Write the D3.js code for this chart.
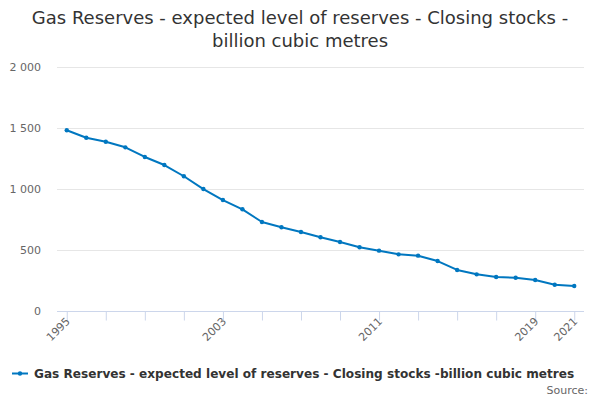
<!DOCTYPE html>
<html>
<head>
<meta charset="utf-8">
<script src="https://cdn.jsdelivr.net/npm/d3@7"></script>
<style>
body { margin: 0; background: #fff; }
text { font-family: "DejaVu Sans", sans-serif; }
</style>
</head>
<body>
<svg id="chart" width="600" height="400"></svg>
<script>
// data
var years = [1995, 1996, 1997, 1998, 1999, 2000, 2001, 2002, 2003, 2004, 2005, 2006, 2007,
  2008, 2009, 2010, 2011, 2012, 2013, 2014, 2015, 2016, 2017, 2018, 2019, 2020, 2021];
var reserves = [1484, 1423, 1390, 1344, 1265, 1199, 1107, 1002, 912, 836, 732, 689, 650,
  607, 568, 525, 497, 467, 456, 412, 339, 303, 281, 275, 257, 218, 207];
var yTicks = [0, 500, 1000, 1500, 2000];
var xTickYears = [1995, 1997, 1999, 2001, 2003, 2005, 2007, 2009, 2011, 2013, 2015, 2017, 2019, 2021];
var xLabelYears = [1995, 2003, 2011, 2019, 2021];

var titleLines = ["Gas Reserves - expected level of reserves - Closing stocks -", "billion cubic metres"];
var seriesName = "Gas Reserves - expected level of reserves - Closing stocks -billion cubic metres";

var color = "#0077c0";
var svg = d3.select("#chart");

var x = d3.scaleLinear().domain([1994.5, 2021.5]).range([57, 584]);
var y = d3.scaleLinear().domain([0, 2000]).range([311.3, 67.3]);

// title
svg.append("text")
  .attr("x", 300).attr("y", 24)
  .attr("text-anchor", "middle")
  .style("font-size", "18px").style("fill", "#333")
  .selectAll("tspan").data(titleLines).enter().append("tspan")
  .attr("x", 300).attr("dy", function(d, i) { return i ? 23 : 0; })
  .text(function(d) { return d; });

// grid
svg.append("g").selectAll("line").data(yTicks.filter(function(d) { return d > 0; })).enter()
  .append("line")
  .attr("x1", 57).attr("x2", 584)
  .attr("y1", function(d) { return Math.round(y(d)) + 0.5; })
  .attr("y2", function(d) { return Math.round(y(d)) + 0.5; })
  .style("stroke", "#e6e6e6");

// y labels
svg.append("g").selectAll("text").data(yTicks).enter().append("text")
  .attr("x", 41).attr("y", function(d) { return y(d) + 4; })
  .attr("text-anchor", "end")
  .style("font-size", "11px").style("fill", "#666")
  .text(function(d) { return d3.format(",")(d).replace(",", " "); });

// x axis
var xAxis = d3.axisBottom(x)
  .tickValues(xTickYears)
  .tickSize(9)
  .tickFormat("");
var gx = svg.append("g").attr("transform", "translate(0," + (Math.round(y(0)) + 0.5) + ")").call(xAxis);
gx.select(".domain").attr("d", "M57,0H584").style("stroke", "#ccd6eb");
gx.selectAll(".tick line").style("stroke", "#ccd6eb");

svg.append("g").selectAll("text").data(xLabelYears).enter().append("text")
  .attr("transform", function(d) { return "translate(" + (x(d) + 4) + ",322) rotate(-45)"; })
  .attr("text-anchor", "end")
  .style("font-size", "11px").style("fill", "#666")
  .text(function(d) { return d; });

// line
var line = d3.line()
  .x(function(d, i) { return x(years[i]); })
  .y(function(d) { return y(d); });

svg.append("path")
  .datum(reserves)
  .attr("d", line)
  .style("fill", "none").style("stroke", color).style("stroke-width", 2)
  .style("stroke-linejoin", "round");

svg.append("g").selectAll("circle").data(reserves).enter().append("circle")
  .attr("cx", function(d, i) { return x(years[i]); })
  .attr("cy", function(d) { return y(d); })
  .attr("r", 2.2)
  .style("fill", color);

// legend
svg.append("line").attr("x1", 12).attr("x2", 28).attr("y1", 373.5).attr("y2", 373.5)
  .style("stroke", color).style("stroke-width", 2);
svg.append("circle").attr("cx", 20).attr("cy", 373.5).attr("r", 2.2).style("fill", color);
svg.append("text")
  .attr("x", 34).attr("y", 378)
  .style("font-size", "12.1px").style("font-weight", "bold").style("fill", "#333")
  .text(seriesName);

svg.append("text")
  .attr("x", 588).attr("y", 394)
  .attr("text-anchor", "end")
  .style("font-size", "11px").style("fill", "#666")
  .text("Source:");
</script>
</body>
</html>
